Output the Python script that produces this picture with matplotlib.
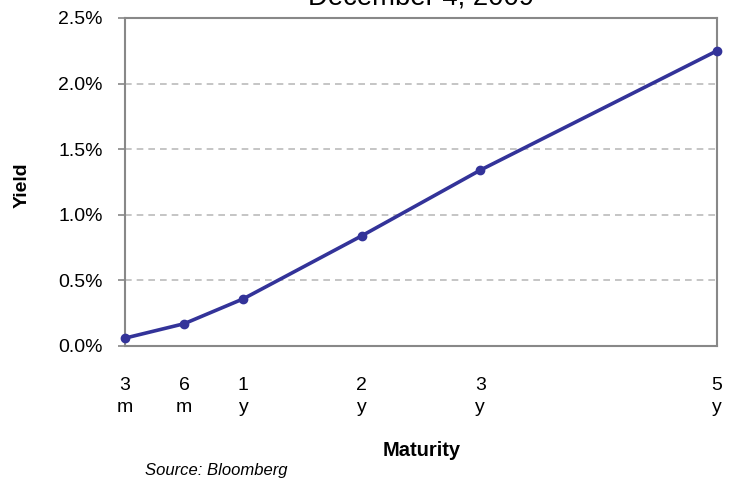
import matplotlib.pyplot as plt
from matplotlib.ticker import FuncFormatter

# Treasury yield curve
maturities = ['3\nm', '6\nm', '1\ny', '2\ny', '3\ny', '5\ny']
positions = [0, 1, 2, 4, 6, 10]
yields = [0.06, 0.17, 0.36, 0.84, 1.34, 2.25]
y_ticks = [0.0, 0.5, 1.0, 1.5, 2.0, 2.5]

plt.rcParams['font.family'] = ['Liberation Sans', 'DejaVu Sans']

fig = plt.figure(figsize=(7.33, 4.8), dpi=100)
ax = fig.add_axes([125 / 733, 1 - 346 / 480, 592 / 733, 328 / 480])

ax.plot(positions, yields, color='#333399', linewidth=2.6, marker='o',
        markersize=6, clip_on=False, zorder=3)

ax.set_xlim(0, 10)
ax.set_ylim(0, 2.5)
ax.set_yticks(y_ticks)
ax.yaxis.set_major_formatter(FuncFormatter(lambda v, p: f'{v:.1f}%'))
ax.set_xticks(positions)
ax.set_xticklabels(maturities, linespacing=1.4)
ax.tick_params(axis='x', length=0, pad=22, labelsize=14)
ax.tick_params(axis='y', length=5, width=1.2, color='#888888', pad=11, labelsize=14)

for v in y_ticks[1:-1]:
    ax.axhline(v, color='#bbbbbb', linestyle=(0, (4, 3)), linewidth=1.2, zorder=1)

for s in ax.spines.values():
    s.set_color('#888888')
    s.set_linewidth(1.5)

ax.set_ylabel('Yield', fontsize=14, fontweight='bold')
ax.yaxis.set_label_coords(-0.159, 0.49)
fig.text(422 / 733, 1 - 450 / 480, 'Maturity', fontsize=14.5, fontweight='bold',
         ha='center', va='center')
fig.text(145 / 733, 1 - 471 / 480, 'Source: Bloomberg', fontsize=12,
         style='italic', ha='left', va='center')
fig.text(421 / 733, 1 - 4 / 480, 'December 4, 2009', fontsize=19.8,
         ha='center', va='baseline')

plt.savefig('out.png', dpi=100)
